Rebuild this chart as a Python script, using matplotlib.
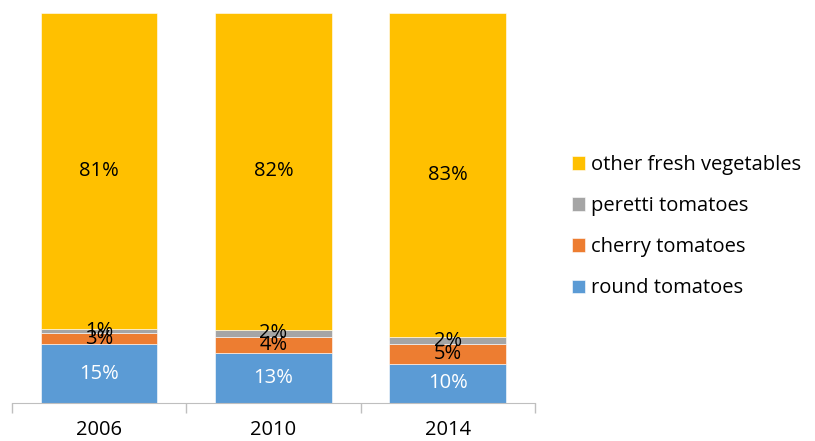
import numpy as np
import matplotlib.pyplot as plt

plt.rcParams['font.family'] = ['Open Sans', 'DejaVu Sans']

# shares by year, in percent
years = ['2006', '2010', '2014']
round_tom = [15, 13, 10]
cherry_tom = [3, 4, 5]
peretti_tom = [1, 2, 2]
other_veg = [81, 82, 83]

series = [
    ('round tomatoes', round_tom, '#5B9BD5', 'white'),
    ('cherry tomatoes', cherry_tom, '#ED7D31', 'black'),
    ('peretti tomatoes', peretti_tom, '#A5A5A5', 'black'),
    ('other fresh vegetables', other_veg, '#FFC000', 'black'),
]

totals = np.sum([s[1] for s in series], axis=0)
x = np.arange(len(years))

fig = plt.figure(figsize=(8.15, 4.41), dpi=100)
ax = fig.add_axes([0.0147, 0.0862, 0.6415, 0.8843])

bottom = np.zeros(len(years))
handles = []
for name, vals, color, tcol in series:
    share = np.array(vals) / totals
    b = ax.bar(x, share, 0.67, bottom=bottom, color=color, label=name,
               edgecolor='white', linewidth=0.4)
    handles.append(b)
    for xi, yb, h, v in zip(x, bottom, share, vals):
        ax.text(xi, yb + h / 2, f'{v}%', ha='center', va='center',
                fontsize=14.5, color=tcol)
    bottom += share

ax.set_xlim(-0.5, 2.5)
ax.set_ylim(0, 1)
ax.set_xticks(x)
ax.set_xticklabels(years, fontsize=14.5)
ax.set_xticks([-0.5, 0.5, 1.5, 2.5], minor=True)
ax.tick_params(axis='x', which='major', length=0, pad=12)
ax.tick_params(axis='x', which='minor', length=7, color='#bfbfbf', width=1)
ax.set_yticks([])
for side in ['top', 'right', 'left']:
    ax.spines[side].set_visible(False)
ax.spines['bottom'].set_color('#bfbfbf')

fig.legend(handles[::-1], [s[0] for s in series][::-1], loc='center left',
           bbox_to_anchor=(0.692, 0.486), frameon=False, fontsize=14.5,
           handlelength=0.65, handleheight=0.65, handletextpad=0.3,
           labelspacing=1.05, borderaxespad=0)

fig.savefig('out.png', dpi=100)
